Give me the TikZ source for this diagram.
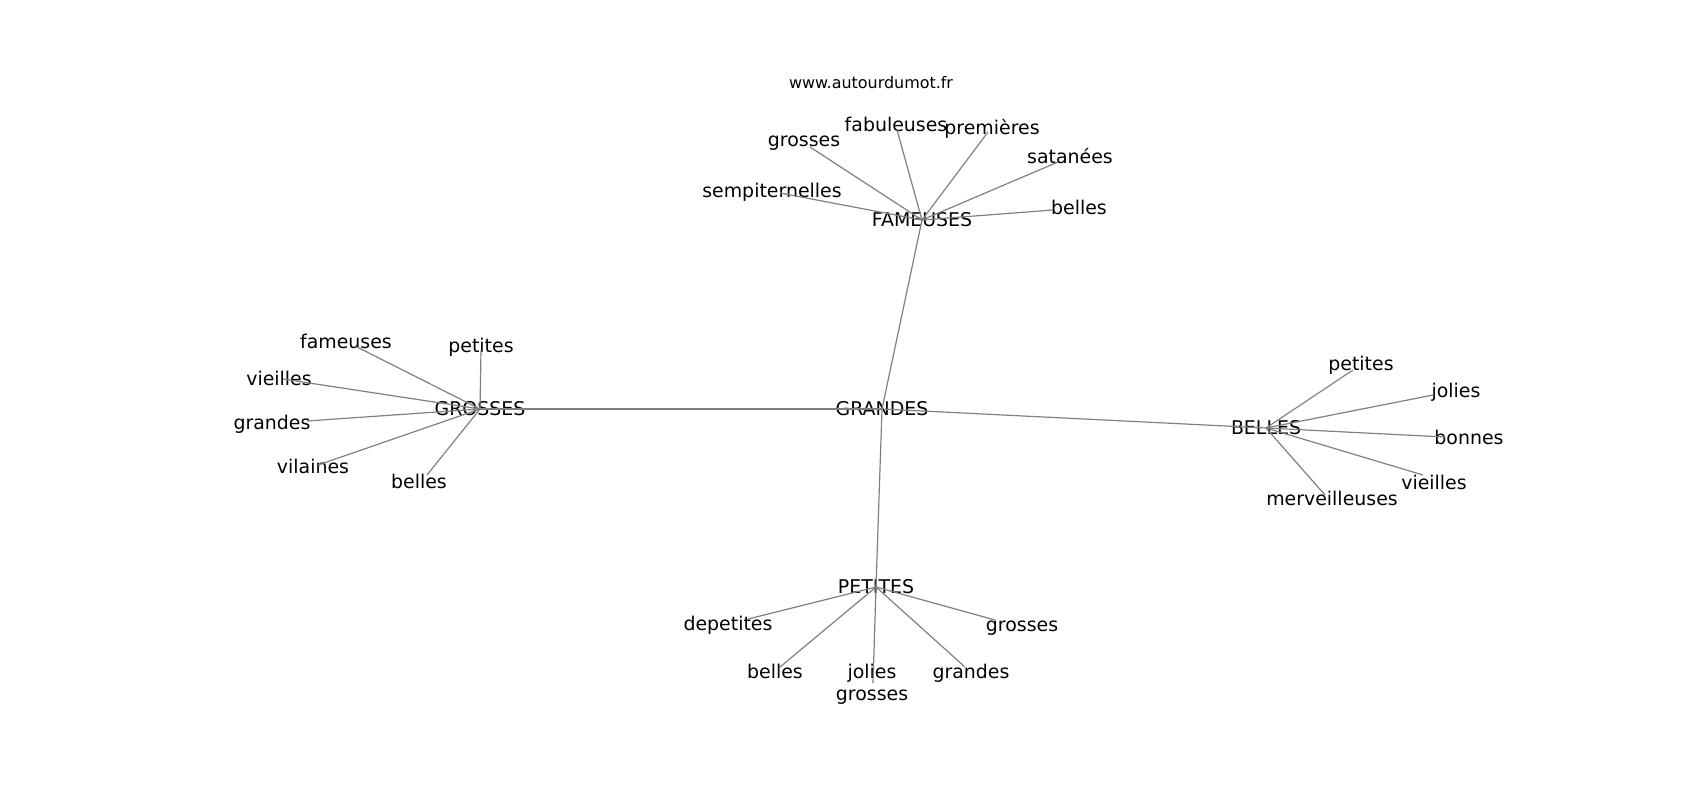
\documentclass[tikz,border=0pt]{standalone}
\usepackage{fontspec}
\setmainfont{DejaVu Sans}
\usetikzlibrary{positioning}
\tikzset{
  word/.style={font=\fontsize{19}{22}\selectfont, inner sep=0pt, align=center},
  site/.style={font=\fontsize{16}{19}\selectfont, inner sep=0pt},
  link/.style={draw=gray, line width=1.2bp},
}

\begin{document}
\begin{tikzpicture}[x=1bp, y=-1bp]

  \useasboundingbox (0,0) rectangle (1700,800);

  % Define nodes
  \node[site] (site) at (871,83) {www.autourdumot.fr};

  \node[word] (grandes) at (882,409) {GRANDES};
  \node[word] (fameuses) at (922,220) {FAMEUSES};
  \node[word] (grosses) at (480,409) {GROSSES};
  \node[word] (belles) at (1266,428) {BELLES};
  \node[word] (petites) at (876,587) {PETITES};

  \node[word] (fam_sempi) at (772,192) {sempiternelles};
  \node[word] (fam_grosses) at (804,143) {grosses};
  \node[word] (fam_fabul) at (896,124) {fabuleuses};
  \node[word] (fam_prem) at (992,129) {premières};
  \node[word] (fam_satan) at (1070,156) {satanées};
  \node[word] (fam_belles) at (1079,207) {belles};

  \node[word] (gro_fameuses) at (346,341) {fameuses};
  \node[word] (gro_petites) at (481,347) {petites};
  \node[word] (gro_vieilles) at (279,378) {vieilles};
  \node[word] (gro_grandes) at (272,424) {grandes};
  \node[word] (gro_vilaines) at (313,466) {vilaines};
  \node[word] (gro_belles) at (419,481) {belles};

  \node[word] (bel_petites) at (1361,365) {petites};
  \node[word] (bel_jolies) at (1456,392) {jolies};
  \node[word] (bel_bonnes) at (1469,437) {bonnes};
  \node[word] (bel_vieilles) at (1434,482) {vieilles};
  \node[word] (bel_merv) at (1332,498) {merveilleuses};

  \node[word] (pet_depet) at (728,625) {depetites};
  \node[word] (pet_belles) at (775,671) {belles};
  \node[word] (pet_jolies) at (872,684) {jolies\\grosses};
  \node[word] (pet_grandes) at (971,673) {grandes};
  \node[word] (pet_grosses) at (1022,628) {grosses};

  % Ends of the links
  \coordinate (p_fam_sempi) at (780,193);
  \coordinate (p_fam_grosses) at (810,147);
  \coordinate (p_fam_fabul) at (897,130);
  \coordinate (p_fam_prem) at (988,132);
  \coordinate (p_fam_satan) at (1058,162);
  \coordinate (p_fam_belles) at (1053,210);

  \coordinate (p_gro_fameuses) at (357,347);
  \coordinate (p_gro_petites) at (481,350);
  \coordinate (p_gro_vieilles) at (283,379);
  \coordinate (p_gro_grandes) at (307,421);
  \coordinate (p_gro_vilaines) at (318,465);
  \coordinate (p_gro_belles) at (427,475);

  \coordinate (p_bel_petites) at (1353,370);
  \coordinate (p_bel_jolies) at (1433,395);
  \coordinate (p_bel_bonnes) at (1445,437);
  \coordinate (p_bel_vieilles) at (1423,475);
  \coordinate (p_bel_merv) at (1325,495);

  \coordinate (p_pet_depet) at (748,619);
  \coordinate (p_pet_belles) at (780,667);
  \coordinate (p_pet_jolies) at (873,683);
  \coordinate (p_pet_grandes) at (965,667);
  \coordinate (p_pet_grosses) at (995,620);

  % Connect nodes
  \draw[link] (grandes.center) -- (fameuses.center);
  \draw[link] (grandes.center) -- (grosses.center);
  \draw[link] (grandes.center) -- (belles.center);
  \draw[link] (grandes.center) -- (petites.center);

  \draw[link] (fameuses.center) -- (p_fam_sempi);
  \draw[link] (fameuses.center) -- (p_fam_grosses);
  \draw[link] (fameuses.center) -- (p_fam_fabul);
  \draw[link] (fameuses.center) -- (p_fam_prem);
  \draw[link] (fameuses.center) -- (p_fam_satan);
  \draw[link] (fameuses.center) -- (p_fam_belles);

  \draw[link] (grosses.center) -- (p_gro_fameuses);
  \draw[link] (grosses.center) -- (p_gro_petites);
  \draw[link] (grosses.center) -- (p_gro_vieilles);
  \draw[link] (grosses.center) -- (p_gro_grandes);
  \draw[link] (grosses.center) -- (p_gro_vilaines);
  \draw[link] (grosses.center) -- (p_gro_belles);

  \draw[link] (belles.center) -- (p_bel_petites);
  \draw[link] (belles.center) -- (p_bel_jolies);
  \draw[link] (belles.center) -- (p_bel_bonnes);
  \draw[link] (belles.center) -- (p_bel_vieilles);
  \draw[link] (belles.center) -- (p_bel_merv);

  \draw[link] (petites.center) -- (p_pet_depet);
  \draw[link] (petites.center) -- (p_pet_belles);
  \draw[link] (petites.center) -- (p_pet_jolies);
  \draw[link] (petites.center) -- (p_pet_grandes);
  \draw[link] (petites.center) -- (p_pet_grosses);

\end{tikzpicture}
\end{document}
